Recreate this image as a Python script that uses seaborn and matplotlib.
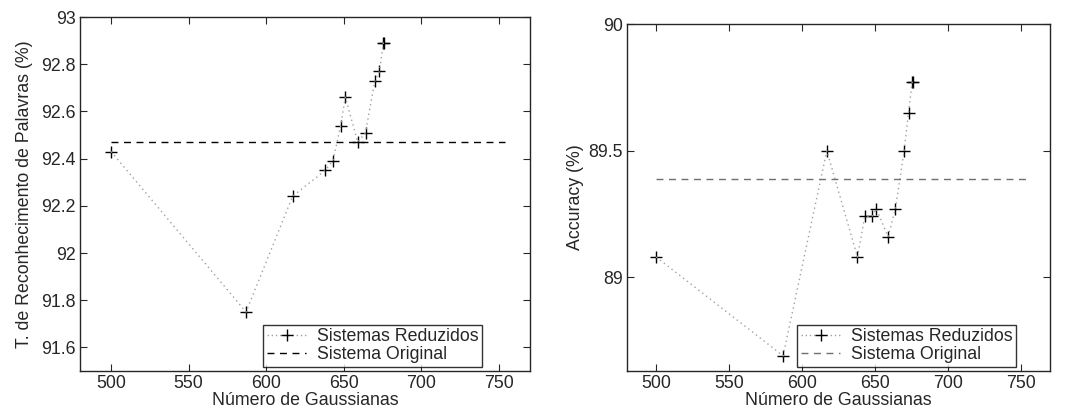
import numpy as np
import pandas as pd
import matplotlib
matplotlib.use("Agg")
import matplotlib.pyplot as plt
import seaborn as sns
from matplotlib.lines import Line2D

# dados
gaussianas = [500, 587, 617, 638, 643, 648, 651, 659, 664, 670, 673, 675.5, 676]
taxa_palavras = [92.43, 91.75, 92.24, 92.35, 92.39, 92.54, 92.66, 92.47, 92.51, 92.73, 92.77, 92.89, 92.89]
accuracy = [89.08, 88.69, 89.50, 89.08, 89.24, 89.24, 89.27, 89.16, 89.27, 89.50, 89.65, 89.77, 89.77]
original_x = [500, 754]
original_palavras = 92.47
original_accuracy = 89.39

sns.set_style("ticks")
plt.rcParams['font.family'] = ['Liberation Sans', 'DejaVu Sans']
FS = 12.8

df = pd.DataFrame({"gauss": gaussianas, "palavras": taxa_palavras, "acc": accuracy})

fig = plt.figure(figsize=(10.75, 4.15), dpi=100)
W, H = 1075, 415
ax1 = fig.add_axes([80 / W, (H - 371) / H, 450 / W, (371 - 17) / H])
ax2 = fig.add_axes([627 / W, (H - 371) / H, 423 / W, (371 - 24) / H])


def painel(ax, col, ref, cor_ref, ylim, yticks, ylabel, pad, margem):
    sns.lineplot(data=df, x="gauss", y=col, sort=False, ax=ax, color="#a0a0a0",
                 linestyle=(0, (1, 2.5)), linewidth=1.0, estimator=None)
    sns.scatterplot(data=df, x="gauss", y=col, ax=ax, marker="+", color="black",
                    s=70, linewidth=1.0)
    ax.plot(original_x, [ref, ref], linestyle=(0, (5, 4)), color=cor_ref, linewidth=1.0)
    ax.set_xlim(480, 770)
    ax.set_ylim(*ylim)
    ax.set_xticks([500, 550, 600, 650, 700, 750])
    ax.set_yticks(yticks)
    ax.tick_params(direction="in", top=True, right=True, length=5, labelsize=FS, width=0.8, pad=3)
    for s in ax.spines.values():
        s.set_linewidth(1.0)
        s.set_visible(True)
    ax.set_xlabel("Número de Gaussianas", fontsize=FS, labelpad=0)
    ax.set_ylabel(ylabel, fontsize=FS, labelpad=pad)
    handles = [Line2D([], [], color="#a0a0a0", linestyle=(0, (1, 2)), marker="+",
                      markeredgecolor="black", markersize=9, linewidth=1.0),
               Line2D([], [], color=cor_ref, linestyle=(0, (5, 4)), linewidth=1.0)]
    leg = ax.legend(handles, ["Sistemas Reduzidos", "Sistema Original"], loc="lower right",
                    bbox_to_anchor=(1 - margem / ax.get_position().width / W, 0.012), fontsize=FS,
                    frameon=True, fancybox=False, borderpad=0.2, labelspacing=0.05,
                    handlelength=2.2, handletextpad=0.6, borderaxespad=0.0)
    leg.get_frame().set_edgecolor("black")
    leg.get_frame().set_linewidth(1.0)


painel(ax1, "palavras", original_palavras, "black", (91.5, 93),
       [91.6, 91.8, 92, 92.2, 92.4, 92.6, 92.8, 93], "T. de Reconhecimento de Palavras (%)", 6, 48)
painel(ax2, "acc", original_accuracy, "#707070", (88.63, 90),
       [89, 89.5, 90], "Accuracy (%)", 3, 34)

ax1.set_yticklabels(["91.6", "91.8", "92", "92.2", "92.4", "92.6", "92.8", "93"])
ax2.set_yticklabels(["89", "89.5", "90"])

fig.savefig("out.png", dpi=100)
